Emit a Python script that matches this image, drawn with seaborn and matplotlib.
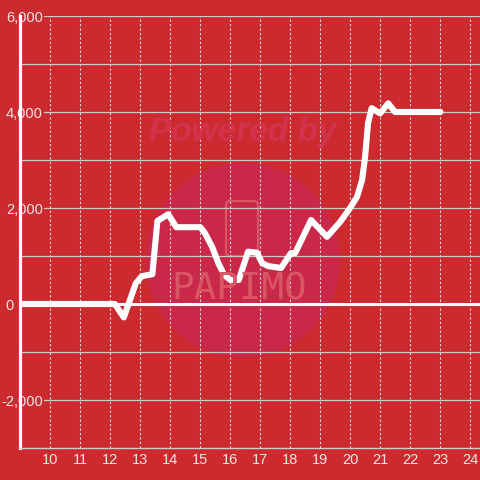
import matplotlib
matplotlib.use("Agg")
import matplotlib.pyplot as plt
import seaborn as sns
import pandas as pd
from matplotlib.patches import Circle, FancyBboxPatch
from matplotlib.ticker import FixedLocator, FuncFormatter

# ---- data ----
x_vals = [9.0, 12.15, 12.45, 12.85, 13.05, 13.4, 13.57, 13.93, 14.2, 15.0, 15.15,
          15.4, 15.6, 15.8, 16.0, 16.28, 16.59, 16.89, 17.06, 17.26, 17.69, 18.02,
          18.16, 18.69, 19.22, 19.66, 19.99, 20.22, 20.39, 20.49, 20.59, 20.71,
          20.99, 21.26, 21.49, 23.0]
y_vals = [0, 0, -280, 430, 580, 620, 1730, 1870, 1600, 1600, 1480,
          1180, 850, 600, 500, 500, 1090, 1070, 850, 790, 750, 1060,
          1060, 1750, 1400, 1710, 2000, 2230, 2580, 3060, 3770, 4080,
          3970, 4180, 4000, 4000]
x_ticks = list(range(10, 25))
y_major = [-2000, 0, 2000, 4000, 6000]
y_minor = [-1000, 1000, 3000, 5000]

BG = "#cc2a2f"
TXT = "#f3e4e4"

sns.set_theme(style="white")
plt.rcParams["font.family"] = ["Liberation Sans", "DejaVu Sans"]

df = pd.DataFrame({"x": x_vals, "y": y_vals})

fig = plt.figure(figsize=(4.8, 4.8), dpi=100, facecolor=BG)
ax = fig.add_axes([20.3 / 480, 32 / 480, 1 - 20.3 / 480, 432 / 480])
ax.set_facecolor(BG)

# watermark
ax.add_patch(Circle((0.506, 0.458), 0.203, transform=fig.transFigure,
                    facecolor="#c92848", edgecolor="none", zorder=0.3, clip_on=False))
ax.add_patch(FancyBboxPatch((227 / 480, 1 - 255 / 480), 30 / 480, 53 / 480,
                            boxstyle="round,pad=0.002,rounding_size=0.008",
                            transform=fig.transFigure, facecolor="none",
                            edgecolor="#d95665", linewidth=1.6, zorder=0.4, clip_on=False))
fig.text(0.505, 1 - 133 / 480, "Powered by", ha="center", va="center",
         fontsize=24, fontweight="bold", fontstyle="italic", color="#d3324c",
         zorder=0.4)
fig.text(0.499, 1 - 289 / 480, "PAPIMO", ha="center", va="center",
         fontsize=27, family="DejaVu Sans Mono", fontweight="light", color="#d95665",
         zorder=0.4)

sns.lineplot(data=df, x="x", y="y", ax=ax, color="white", linewidth=4.4,
             sort=False, estimator=None, zorder=2.2, solid_joinstyle="round")
ax.axhline(0, color="white", linewidth=2.2, zorder=2.1)

ax.set_xlim(9.0, 24.32)
ax.set_ylim(-3000, 6000)
ax.set_xlabel("")
ax.set_ylabel("")

ax.xaxis.set_major_locator(FixedLocator(x_ticks))
ax.yaxis.set_major_locator(FixedLocator(y_major))
ax.yaxis.set_minor_locator(FixedLocator(y_minor))


def yfmt(v, pos):
    if v == 0:
        return "0       "
    return f"{int(v):,}"


ax.yaxis.set_major_formatter(FuncFormatter(yfmt))

ax.grid(True, axis="x", which="major", color="#e8dede", linestyle=(0, (2, 2)),
        linewidth=0.8)
ax.grid(True, axis="y", which="both", color="#cfcaca", linestyle="-", linewidth=0.9)

ax.tick_params(axis="y", which="both", length=0, pad=-16.3, labelsize=10.5,
               labelcolor=TXT)
ax.tick_params(axis="x", which="both", length=0, pad=3.5, labelsize=10.5,
               labelcolor=TXT)

for s in ["top", "right"]:
    ax.spines[s].set_visible(False)
ax.spines["left"].set_color("white")
ax.spines["left"].set_linewidth(2.3)
ax.spines["left"].set_zorder(1.0)
ax.spines["bottom"].set_color("#d0cccc")
ax.spines["bottom"].set_linewidth(1.0)

fig.canvas.draw()
for lbl in ax.get_yticklabels():
    if lbl.get_text().strip() != "0":
        lbl.set_bbox(dict(facecolor=BG, edgecolor="none", pad=1.0))

fig.savefig("out.png", dpi=100, facecolor=BG)
